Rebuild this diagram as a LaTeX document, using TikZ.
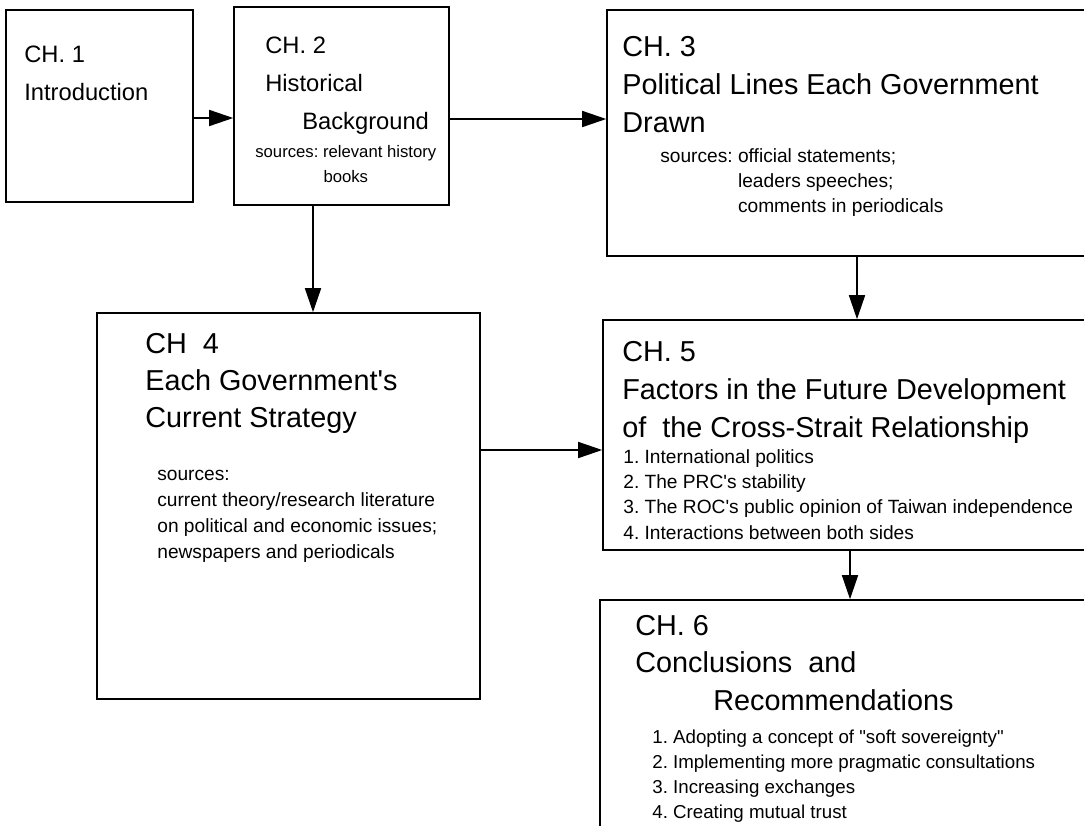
\documentclass[tikz,border=0pt]{standalone}
\usepackage{fontspec}
\setmainfont{Liberation Sans}[Ligatures=TeXOff]
\usetikzlibrary{arrows.meta, fit}
\tikzstyle{box} = [rectangle, draw, line width=0.9pt, inner sep=0pt]
\tikzstyle{line} = [draw, line width=0.9pt, -{Triangle[length=4.8mm, width=3.2mm]}]
\tikzstyle{heading} = [anchor=base west, inner sep=0pt, align=left, font=\fontsize{16.4}{21.6}\selectfont]
\tikzstyle{headsmall} = [heading, font=\fontsize{13.5}{21.6}\selectfont]
\tikzstyle{srclist} = [anchor=base west, inner sep=0pt, align=left, font=\fontsize{10.9}{14.2}\selectfont]

\begin{document}
\frenchspacing
\begin{tikzpicture}[x=0.02cm, y=-0.02cm]
    \useasboundingbox (0,0) rectangle (1084,825);
    \clip (0,0) rectangle (1084,825);

    % chapter boxes
    \node [box, fit={(6,10) (193,202)}] (ch1) {};
    \node [box, fit={(234,7) (449,205)}] (ch2) {};
    \node [box, fit={(607,10) (1107,256)}] (ch3) {};
    \node [box, fit={(97,313) (480,699)}] (ch4) {};
    \node [box, fit={(603,320) (1097,550)}] (ch5) {};
    \node [box, fit={(600,600) (1100,860)}] (ch6) {};

    % texts (placed at the baseline of their last line)
    \node [headsmall] (ch1_head) at (24,100) {CH. 1\\Introduction};
    \node [headsmall] (ch2_head) at (265,129) {CH. 2\\Historical\\\hspace*{0.74cm}Background};
    \node [srclist, align=center, font=\fontsize{9.5}{14.2}\selectfont] (ch2_src) at (255,182) {sources: relevant history\\books};
    \node [heading] (ch3_head) at (622,132) {CH. 3\\Political Lines Each Government\\Drawn};
    \node [srclist] (ch3_src) at (660,212) {sources: official statements;\\\hphantom{sources: }leaders speeches;\\\hphantom{sources: }comments in periodicals};
    \node [heading, font=\fontsize{16.4}{21}\selectfont] (ch4_head) at (145,427) {CH\ \ 4\\Each Government's\\Current Strategy};
    \node [srclist, font=\fontsize{10.9}{14.8}\selectfont] (ch4_src) at (157,558) {sources:\\current theory/research literature\\on political and economic issues;\\newspapers and periodicals};
    \node [heading] (ch5_head) at (622,437) {CH. 5\\Factors in the Future Development\\of\ \ the Cross-Strait Relationship};
    \node [srclist, font=\fontsize{10.9}{14.4}\selectfont] (ch5_src) at (623,539) {1. International politics\\2. The PRC's stability\\3. The ROC's public opinion of Taiwan independence\\4. Interactions between both sides};
    \node [heading, font=\fontsize{16.4}{21.3}\selectfont] (ch6_head) at (635,710) {CH. 6\\Conclusions\ \ and\\\hspace*{1.56cm}Recommendations};
    \node [srclist, font=\fontsize{10.65}{14.2}\selectfont] (ch6_src) at (652,818) {1. Adopting a concept of "soft sovereignty"\\2. Implementing more pragmatic consultations\\3. Increasing exchanges\\4. Creating mutual trust};

    % connectors
    \path [line] ([yshift=-0.24cm]ch1.east) -- ([yshift=-0.24cm]ch2.west);
    \path [line] ([yshift=-0.26cm]ch2.east) -- ([yshift=0.28cm]ch3.west);
    \path [line] ([xshift=-0.57cm]ch2.south) -- ([xshift=-0.57cm]ch2.south |- ch4.north);
    \path [line] (ch3.south) -- (ch3.south |- ch5.north);
    \path [line] ([yshift=1.12cm]ch4.east) -- ([yshift=-0.3cm]ch5.west);
    \path [line] (ch5.south) -- (ch5.south |- ch6.north);

\end{tikzpicture}
\end{document}
